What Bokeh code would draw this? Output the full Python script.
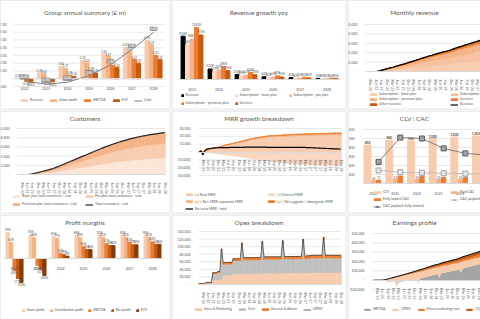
import math
from bokeh.plotting import figure
from bokeh.layouts import row, column
from bokeh.models import Range1d, FixedTicker, Legend, LegendItem, ColumnDataSource, LabelSet, Label
from bokeh.embed import file_html
from bokeh.resources import INLINE
from bokeh.core.properties import value

FONT = "Lato"
TXT = "#595959"
GRID = "#d9d9d9"
TS = "3.5px"

# ---------------- annual data ----------------
years = ["2022", "2023", "2024", "2025", "2026", "2027", "2028"]
grp_revenue = [0.09, 0.76, 1.60, 2.36, 3.25, 4.07, 4.96]
grp_gross_profit = [0.07, 0.64, 1.37, 2.05, 2.87, 3.61, 4.39]
grp_ebitda = [-0.30, -0.25, 0.45, 0.99, 1.75, 2.47, 3.02]
grp_fcf = [-0.45, -0.40, 0.30, 0.75, 1.43, 2.01, 2.45]
grp_cash = [-0.30, -0.70, -0.45, 0.40, 1.80, 3.80, 6.00]

growth_years = ["2023", "2024", "2025", "2026", "2027", "2028"]
growth_revenue = [950, 230, 110, 60, 40, 25]
growth_basic = [760, 175, 85, 45, 30, 20]
growth_pro = [886, 210, 100, 55, 35, 25]
growth_premium = [1143, 285, 150, 80, 50, 30]
growth_services = [975, 195, 105, 55, 35, 25]

clv = [850, 960, 945, 1000, 1030, 1055, 1080]
paid_cac = [64, 92, 90, 92, 93, 94, 95]
fl_cac = [73, 165, 160, 140, 130, 125, 120]
payback_fl = [480, 1020, 1000, 780, 670, 630, 600]
payback = [290, 250, 240, 230, 220, 215, 210]

margin_gp = [99, 92, 85, 88, 90, 90, 90]
margin_cp = [62, 80, 77, 80, 82, 82, 82]
margin_ebitda = [-46, -27, 20, 46, 57, 63, 64]
margin_np = [-77, -42, 15, 35, 50, 53, 55]
margin_fcf = [-92, -65, 9, 35, 50, 53, 55]

# ---------------- monthly data (Jan-22 .. Dec-28) ----------------
month_ticks = ["Mar-22", "Jun-22", "Sep-22", "Dec-22", "Mar-23", "Jun-23", "Sep-23", "Dec-23",
               "Mar-24", "Jun-24", "Sep-24", "Dec-24", "Mar-25", "Jun-25", "Sep-25", "Dec-25",
               "Mar-26", "Jun-26", "Sep-26", "Dec-26", "Mar-27", "Jun-27", "Sep-27", "Dec-27",
               "Mar-28", "Jun-28", "Sep-28", "Dec-28"]

# revenue streams, £k per month
rev_basic = [0, 0, 0, 0, 0, 0, 1, 3, 4, 6, 8, 10,
             12, 14, 15, 17, 19, 21, 23, 25, 27, 29, 31, 33,
             36, 38, 40, 42, 44, 46, 49, 51, 53, 55, 58, 60,
             61, 63, 66, 68, 69, 71, 73, 75, 77, 78, 80, 82,
             85, 87, 90, 92, 94, 96, 99, 101, 103, 105, 107, 109,
             112, 114, 116, 118, 120, 122, 124, 126, 127, 129, 131, 133,
             137, 139, 142, 144, 147, 149, 151, 153, 156, 158, 159, 161]
rev_pro = [0, 0, 0, 0, 0, 0, 1, 2, 4, 5, 7, 8,
           10, 11, 13, 14, 16, 18, 20, 21, 23, 24, 26, 28,
           30, 32, 33, 35, 37, 39, 41, 43, 44, 46, 48, 50,
           51, 53, 55, 56, 58, 59, 61, 62, 64, 65, 67, 68,
           71, 73, 75, 77, 79, 80, 82, 84, 86, 88, 89, 91,
           93, 95, 97, 98, 100, 102, 103, 105, 106, 108, 109, 111,
           114, 116, 118, 120, 122, 124, 126, 128, 130, 131, 133, 134]
rev_premium = [0, 0, 0, 0, 0, 0, 1, 1, 3, 4, 6, 7,
               8, 9, 10, 12, 13, 14, 16, 17, 18, 19, 21, 22,
               24, 25, 27, 28, 30, 31, 33, 34, 36, 37, 38, 40,
               41, 42, 44, 45, 46, 48, 49, 50, 51, 52, 54, 55,
               57, 58, 60, 61, 63, 64, 66, 67, 69, 70, 72, 73,
               74, 76, 77, 79, 80, 81, 83, 84, 85, 86, 87, 89,
               91, 93, 95, 96, 98, 99, 101, 102, 104, 105, 106, 108]
rev_services = [0, 0, 0, 0, 0, 0, 0, 1, 1, 1, 2, 2,
                2, 3, 3, 3, 4, 4, 5, 5, 5, 6, 6, 7,
                7, 7, 8, 8, 9, 9, 10, 10, 10, 11, 11, 12,
                12, 12, 13, 13, 14, 14, 14, 15, 15, 15, 16, 16,
                17, 17, 18, 18, 18, 19, 19, 20, 20, 20, 21, 21,
                22, 22, 23, 23, 23, 24, 24, 24, 25, 25, 25, 26,
                27, 27, 28, 28, 29, 29, 29, 30, 30, 31, 31, 31]
rev_other = [0, 0, 0, 0, 0, 0, 0, 0, 0, 1, 0, 1,
             1, 1, 2, 2, 2, 2, 1, 2, 3, 3, 3, 3,
             2, 3, 3, 4, 3, 4, 3, 4, 5, 5, 5, 4,
             5, 6, 4, 6, 6, 6, 6, 6, 6, 8, 6, 7,
             6, 8, 7, 8, 8, 9, 8, 8, 8, 9, 9, 10,
             9, 9, 9, 10, 11, 10, 10, 10, 11, 11, 12, 10,
             11, 12, 11, 13, 12, 13, 13, 13, 12, 13, 14, 14]

# customers (end of month)
cust_basic = [0, 0, 0, 0, 0, 0, 10, 30, 60, 90, 130, 160,
              200, 240, 280, 320, 360, 400, 450, 490, 540, 600, 660, 720,
              780, 850, 910, 980, 1040, 1100, 1170, 1230, 1300, 1360, 1420, 1490,
              1550, 1620, 1680, 1740, 1810, 1870, 1940, 2000, 2060, 2130, 2190, 2260,
              2320, 2380, 2440, 2490, 2550, 2600, 2660, 2710, 2760, 2810, 2860, 2900,
              2950, 2990, 3040, 3080, 3120, 3160, 3190, 3230, 3260, 3300, 3330, 3360,
              3390, 3420, 3440, 3470, 3490, 3520, 3540, 3560, 3580, 3600, 3620, 3640]
cust_pro = [0, 0, 0, 0, 0, 0, 10, 30, 50, 80, 110, 140,
            180, 210, 250, 280, 320, 350, 390, 430, 470, 530, 580, 630,
            690, 740, 800, 850, 910, 970, 1020, 1080, 1130, 1190, 1250, 1300,
            1360, 1410, 1470, 1530, 1580, 1640, 1690, 1750, 1810, 1860, 1920, 1970,
            2030, 2080, 2130, 2180, 2230, 2280, 2320, 2370, 2420, 2460, 2500, 2540,
            2580, 2620, 2660, 2690, 2730, 2760, 2790, 2820, 2860, 2880, 2910, 2940,
            2960, 2990, 3010, 3030, 3060, 3080, 3100, 3120, 3130, 3150, 3170, 3190]
cust_premium = [0, 0, 0, 0, 0, 0, 10, 20, 40, 60, 80, 110,
                120, 150, 170, 200, 220, 260, 280, 310, 340, 370, 410, 450,
                490, 530, 570, 610, 650, 690, 730, 770, 810, 850, 890, 930,
                970, 1010, 1050, 1090, 1130, 1170, 1210, 1250, 1290, 1330, 1370, 1410,
                1440, 1480, 1520, 1560, 1590, 1630, 1660, 1690, 1720, 1750, 1780, 1820,
                1840, 1870, 1890, 1920, 1940, 1970, 2000, 2020, 2040, 2060, 2080, 2100,
                2120, 2130, 2160, 2170, 2180, 2190, 2210, 2220, 2240, 2250, 2260, 2270]

# MRR movements, £k
mrr_new = [0, 0, 0.5, 1, 2, 3, 3.5, 4, 4.5, 5, 5.5, 6,
           6.5, 7, 7.5, 8, 8.5, 9, 9.5, 10, 10.5, 11, 11.5, 12,
           12.5, 13, 13.5, 14, 14.5, 15, 15.5, 16, 16.3, 16.6, 17, 17.3,
           17.6, 18, 18.3, 18.6, 18.8, 19, 19.2, 19.3, 19.4, 19.5, 19.6, 19.7,
           19.8, 19.9, 20, 20.1, 20.2, 20.3, 20.4, 20.5, 20.6, 20.7, 20.8, 20.9,
           21, 21, 21.1, 21.1, 21.2, 21.2, 21.3, 21.3, 21.4, 21.4, 21.5, 21.5,
           21.6, 21.6, 21.7, 21.7, 21.8, 21.8, 21.9, 21.9, 22, 22, 22, 22]
mrr_churn = [0, 0, 0, -0.2, -0.4, -0.6, -0.9, -1.2, -1.5, -1.8, -2.1, -2.4,
             -2.7, -3, -3.3, -3.6, -3.9, -4.2, -4.5, -4.8, -5.1, -5.4, -5.7, -6,
             -6.3, -6.6, -6.9, -7.2, -7.5, -7.8, -8.1, -8.4, -8.7, -9, -9.3, -9.6,
             -9.9, -10.2, -10.5, -10.8, -11.1, -11.4, -11.7, -12, -12.3, -12.6, -12.9, -13.1,
             -13.3, -13.5, -13.7, -13.9, -14.1, -14.3, -14.5, -14.7, -14.9, -15.1, -15.3, -15.5,
             -15.6, -15.7, -15.8, -15.9, -16, -16.1, -16.2, -16.3, -16.4, -16.5, -16.6, -16.7,
             -16.8, -16.9, -17, -17.1, -17.2, -17.3, -17.4, -17.5, -17.6, -17.7, -17.8, -17.9]
mrr_expansion = [0, 0, 0, 0, 0, 0, 0.1, 0.1, 0.1, 0.2, 0.2, 0.2,
                 0.3, 0.3, 0.3, 0.4, 0.4, 0.4, 0.5, 0.5, 0.5, 0.6, 0.6, 0.6,
                 0.7, 0.7, 0.7, 0.8, 0.8, 0.8, 0.9, 0.9, 0.9, 1.0, 1.0, 1.0,
                 1.0, 1.1, 1.1, 1.1, 1.2, 1.2, 1.2, 1.2, 1.3, 1.3, 1.3, 1.3,
                 1.3, 1.4, 1.4, 1.4, 1.4, 1.4, 1.5, 1.5, 1.5, 1.5, 1.5, 1.5,
                 1.5, 1.5, 1.6, 1.6, 1.6, 1.6, 1.6, 1.6, 1.6, 1.6, 1.7, 1.7,
                 1.7, 1.7, 1.7, 1.7, 1.7, 1.7, 1.7, 1.8, 1.8, 1.8, 1.8, 1.8]
mrr_upgrade = [0, 0, 0, 0, 0, 0, 0, 0, 0.1, 0.1, 0.1, 0.1,
               0.1, 0.2, 0.2, 0.2, 0.2, 0.2, 0.3, 0.3, 0.3, 0.3, 0.3, 0.3,
               0.4, 0.4, 0.4, 0.4, 0.4, 0.4, 0.4, 0.5, 0.5, 0.5, 0.5, 0.5,
               0.5, 0.5, 0.5, 0.5, 0.5, 0.6, 0.6, 0.6, 0.6, 0.6, 0.6, 0.6,
               0.6, 0.6, 0.6, 0.6, 0.6, 0.6, 0.6, 0.6, 0.6, 0.6, 0.6, 0.6,
               0.6, 0.6, 0.6, 0.6, 0.6, 0.6, 0.6, 0.6, 0.6, 0.6, 0.6, 0.6,
               0.6, 0.6, 0.6, 0.6, 0.6, 0.6, 0.6, 0.6, 0.6, 0.6, 0.6, 0.6]
mrr_net = [0, 1.5, -4, 1, 3, 4, 4.5, 4.8, 5, 5.2, 5.3, 5.4,
           5.5, 5.5, 5.6, 5.6, 5.7, 5.7, 5.8, 5.8, 5.9, 5.9, 6, 6,
           6, 6, 6, 6.1, 6.1, 6.1, 6.1, 6.1, 6.1, 6.1, 6.1, 6.1,
           6.1, 6.1, 6.1, 6.1, 6, 6, 6, 6, 6, 6, 6, 6,
           6, 6, 6, 6, 6, 6, 6, 6, 5.9, 5.9, 5.9, 5.9,
           5.9, 5.8, 5.8, 5.7, 5.6, 5.5, 5.4, 5.3, 5.2, 5.1, 5, 4.9,
           4.8, 4.7, 4.6, 4.5, 4.4, 4.3, 4.2, 4.1, 4, 3.9, 3.8, 3.7]

# opex, £k
opex_sm = [0, 0, 0, 0, 1, 1, 1, 1, 12, 12, 12, 13,
           13, 14, 25, 25, 25, 25, 25, 25, 28, 28, 28, 28,
           28, 28, 29, 29, 29, 29, 29, 29, 29, 29, 29, 29,
           30, 30, 30, 30, 30, 30, 30, 30, 30, 30, 30, 30,
           30, 30, 31, 31, 31, 31, 31, 31, 31, 31, 31, 31,
           31, 31, 31, 31, 31, 31, 32, 32, 32, 32, 32, 32,
           32, 32, 32, 32, 32, 32, 32, 32, 32, 32, 32, 32]
opex_tech = [2, 2, 2, 2, 4, 4, 4, 4, 17, 17, 17, 19,
             19, 77, 29, 29, 29, 29, 29, 29, 35, 35, 35, 35,
             35, 76, 36, 36, 36, 36, 36, 36, 36, 36, 36, 36,
             36, 78, 36, 37, 37, 37, 37, 37, 37, 37, 37, 37,
             37, 80, 37, 37, 37, 37, 37, 37, 37, 37, 37, 37,
             37, 82, 37, 37, 38, 38, 38, 38, 38, 38, 38, 38,
             38, 86, 38, 38, 38, 38, 38, 38, 38, 38, 38, 38]
opex_ga = [0.3, 0.3, 0.3, 0.3, 0.5, 0.5, 0.5, 0.5, 2, 2, 2, 2.5,
           2.5, 3, 4, 4, 4, 4, 4, 4, 5, 5, 5, 5,
           5, 6, 6, 6, 6, 6, 6, 6, 6, 6, 6, 6,
           6, 6, 6, 6, 6, 6, 6, 6, 6, 6, 6, 6,
           6, 6, 6, 6, 6, 6, 6, 6, 6, 6, 6, 6,
           7, 7, 7, 7, 7, 7, 7, 7, 7, 7, 7, 7,
           7, 7, 7, 7, 7, 7, 7, 7, 7, 7, 7, 7]

# direct costs, £k
direct_marketing = [0, 0, 0, 0, 0, 0, 1, 1, 1.5, 2, 2.5, 3,
                    3, 3.2, 3.5, 4, 4.3, 4.7, 5.2, 5.6, 6, 6.5, 7, 7.4,
                    8, 8.4, 8.9, 9.4, 9.8, 10.3, 10.9, 11.4, 11.8, 12.3, 12.8, 13.3,
                    13.6, 14, 14.6, 15, 15.4, 15.8, 16.2, 16.6, 17, 17.4, 17.8, 18.2,
                    18.9, 19.4, 20, 20.5, 21, 21.4, 21.9, 22.4, 22.9, 23.4, 23.8, 24.3,
                    24.8, 25.3, 25.8, 26.2, 26.7, 27.1, 27.5, 27.9, 28.3, 28.7, 29.1, 29.5,
                    30.4, 31, 31.5, 32, 32.6, 33.1, 33.6, 34.1, 34.6, 35, 35.4, 35.8]
cogs = [0, 0, 0, 0, 0, 0, 0.4, 0.8, 1.4, 2, 2.8, 3.4,
        4, 4.6, 5.2, 5.8, 6.5, 7, 7.8, 8.4, 9, 9.7, 10.4, 11,
        12, 12.6, 13.3, 14, 14.8, 15.5, 16.3, 17, 17.8, 18.5, 19.2, 20,
        20.4, 21, 21.8, 22.5, 23, 23.8, 24.4, 25, 25.6, 26, 26.8, 27.4,
        28.3, 29, 30, 30.7, 31.4, 32, 32.9, 33.6, 34.3, 35, 35.8, 36.5,
        37.2, 38, 38.6, 39.4, 40, 40.7, 41.3, 41.9, 42.5, 43, 43.7, 44.3,
        45.6, 46.4, 47.3, 48, 49, 49.7, 50.4, 51, 51.8, 52.6, 53.2, 53.8]

for arr in (rev_basic, rev_pro, rev_premium, rev_services, rev_other, cust_basic, cust_pro,
            cust_premium, mrr_new, mrr_churn, mrr_expansion, mrr_upgrade, mrr_net, opex_sm,
            opex_tech, opex_ga, direct_marketing, cogs):
    assert len(arr) == 84, len(arr)

# ---------------- helpers ----------------
N = 84
months = list(range(N))
tick_pos = list(range(2, N, 3))


def k(a):
    return [v * 1000 for v in a]


def fmt_axis(v):
    if v == 0:
        return "-"
    s = f"{abs(v):,.0f}"
    return f"({s})" if v < 0 else s


def fmt2(v):
    return f"({abs(v):.2f})" if v < 0 else f"{v:.2f}"


def pct(v):
    return f"({abs(v)}%)" if v < 0 else f"{v}%"


def mk(W, H, px, data, title, title_y, yt=None, base=None, ylabels=None, ystand=2):
    """px = plot-area pixels (L, R, T, B) inside the figure; data = (x0, x1, y0, y1)."""
    L, R, T, B = px
    x0, x1, y0, y1 = data
    ux = (x1 - x0) / (R - L)
    uy = (y1 - y0) / (B - T)
    xr = Range1d(x0 - L * ux, x1 + (W - R) * ux)
    yr = Range1d(y0 - (H - B) * uy, y1 + T * uy)
    p = figure(width=W, height=H, x_range=xr, y_range=yr, output_backend="svg",
               toolbar_location=None, min_border=0, min_border_left=0, min_border_right=0,
               min_border_top=0, min_border_bottom=0,
               background_fill_color="white", border_fill_color="white", outline_line_color=None)
    for ax in list(p.xaxis) + list(p.yaxis):
        ax.major_label_text_font = FONT
        ax.major_label_text_font_size = TS
        ax.major_label_text_color = TXT
        ax.major_tick_line_color = None
        ax.minor_tick_line_color = None
        ax.axis_line_color = None
        ax.major_label_standoff = 2
    p.xgrid.grid_line_color = None
    p.ygrid.grid_line_color = None
    p.xaxis.fixed_location = y0 if base is None else base
    p.xaxis.axis_line_color = GRID
    p.xaxis.bounds = (x0, x1)
    if yt is None:
        p.yaxis.visible = False
    else:
        p.yaxis.fixed_location = x0
        p.yaxis.major_label_standoff = ystand
        p.yaxis.ticker = FixedTicker(ticks=yt)
        p.yaxis.major_label_overrides = ylabels or {t: fmt_axis(t) for t in yt}
        p.segment(x0=[x0] * len(yt), x1=[x1] * len(yt), y0=yt, y1=yt, color=GRID,
                  line_width=0.6, level="underlay")
    p.add_layout(Label(x=W / 2, y=H - title_y, x_units="screen", y_units="screen", text=title,
                       text_align="center", text_baseline="middle", text_font=FONT,
                       text_font_size="6.5px", text_color=TXT))
    p.styles = {"outline": "1px solid #d9d9d9", "outline-offset": "-1px"}
    return p


def xcats(p, labels):
    pos = list(range(len(labels)))
    p.xaxis.ticker = FixedTicker(ticks=pos)
    p.xaxis.major_label_overrides = dict(zip(pos, labels))


def xmonths(p):
    p.xaxis.ticker = FixedTicker(ticks=tick_pos)
    p.xaxis.major_label_overrides = dict(zip(tick_pos, month_ticks))
    p.xaxis.major_label_orientation = "vertical"


def labels(p, xs, ys, texts, size="3.2px", color=TXT, bold=False):
    pos = [(x, y, t) for x, y, t in zip(xs, ys, texts) if y >= 0]
    neg = [(x, y, t) for x, y, t in zip(xs, ys, texts) if y < 0]
    for grp, base, off in ((pos, "bottom", -1), (neg, "top", 1)):
        if grp:
            p.text(x=[g[0] for g in grp], y=[g[1] for g in grp], text=[g[2] for g in grp],
                   text_font=value(FONT), text_font_size=value(size), text_color=color,
                   text_font_style="bold" if bold else "normal",
                   text_align="center", text_baseline=base, y_offset=off)


def legend(p, items, x, y, ncols, lw=0, gw=8, gh=3, lh=5, spacing=0):
    leg = Legend(items=[LegendItem(label=value(l), renderers=r if isinstance(r, list) else [r])
                        for l, r in items],
                 location=(x, y), orientation="horizontal", ncols=ncols,
                 label_text_font=FONT, label_text_font_size=TS, label_text_color=TXT,
                 glyph_width=gw, glyph_height=gh, label_height=lh, label_width=lw,
                 label_standoff=2, spacing=spacing, padding=0, margin=0,
                 border_line_alpha=0, background_fill_alpha=0)
    p.add_layout(leg, "center")


# colours
C1, C2, C3, C4, C5 = "#fbe5d6", "#f8cbad", "#f4b183", "#ed7d31", "#c55a11"

# ---------------- P1 Group annual summary ----------------
p1 = mk(169, 108, (13, 164, 24, 86), (-0.51, 6.51, -1, 7), "Group annual summary (£ m)", 12,
        yt=[-1, 0, 1, 2, 3, 4, 5, 6, 7], base=0, ystand=1,
        ylabels={-1: "(1.00)", 0: "-", 1: "1.00", 2: "2.00", 3: "3.00", 4: "4.00", 5: "5.00",
                 6: "6.00", 7: "7.00"})
xcats(p1, years)
yi = list(range(len(years)))
items = []
for vals, col, off, lab in ((grp_revenue, C2, -0.3, "Revenue"), (grp_gross_profit, C3, -0.1, "Gross profit"),
                            (grp_ebitda, C4, 0.1, "EBITDA"), (grp_fcf, C5, 0.3, "FCF")):
    xs = [i + off for i in yi]
    r = p1.vbar(x=xs, top=vals, bottom=0, width=0.19, color=col)
    items.append((lab, r))
    labels(p1, xs, vals, [fmt2(v) for v in vals], size="3px")
rc = p1.line(yi, grp_cash, color="#7f7f7f", line_width=1)
items.append(("Cash", rc))
src_cash = ColumnDataSource(dict(x=yi, y=grp_cash, t=[fmt2(v) for v in grp_cash]))
p1.add_layout(LabelSet(x="x", y="y", text="t", source=src_cash, y_offset=2, text_align="center",
                       text_baseline="bottom", text_font=value(FONT), text_font_size=value("3.4px"),
                       text_color="white", background_fill_color="#a5a5a5", border_line_color="#7f7f7f"))
legend(p1, items, 20, 5.5, 5, spacing=6)

# ---------------- P2 Revenue growth yoy ----------------
p2 = mk(173, 108, (6, 168, 22, 79), (-0.5, 5.5, 0, 1250), "Revenue growth yoy", 12, base=0)
xcats(p2, growth_years)
gi = list(range(len(growth_years)))
items = []
for vals, col, off, lab in ((growth_revenue, "#000000", -0.33, "Revenue"),
                            (growth_basic, "#fbd5c0", -0.165, "Subscription - basic plan"),
                            (growth_pro, "#f6b48c", 0.0, "Subscription - pro plan"),
                            (growth_premium, C4, 0.165, "Subscription - premium plan"),
                            (growth_services, C5, 0.33, "Services")):
    xs = [i + off for i in gi]
    r = p2.vbar(x=xs, top=vals, bottom=0, width=0.15, color=col)
    items.append((lab, r))
    labels(p2, xs, vals, [pct(v) for v in vals], size="3px")
legend(p2, items, 8.5, 1, 3, lw=49, gw=3, gh=3, lh=8)

# ---------------- P3 Monthly revenue ----------------
p3 = mk(132, 108, (17, 132, 24, 71), (-0.8, 63.8, 0, 500000), "Monthly revenue", 12,
        yt=[0, 100000, 200000, 300000, 400000, 500000])
xmonths(p3)
src3 = ColumnDataSource(dict(x=months, b=k(rev_basic), p=k(rev_pro), m=k(rev_premium),
                             s=k(rev_services), o=k(rev_other)))
rs = p3.vbar_stack(["b", "p", "m", "s", "o"], x="x", width=0.6,
                   color=[C2, "#f6c09e", C3, C4, C5], source=src3)
rev_total = [a + b + c + d + e for a, b, c, d, e in zip(rev_basic, rev_pro, rev_premium, rev_services, rev_other)]
rl = p3.line(months, k(rev_total), color="#000000", line_width=1.2)
legend(p3, [("Subscription - basic plan", rs[0]), ("Subscription - pro plan", rs[1]),
            ("Subscription - premium plan", rs[2]), ("Services", rs[3]),
            ("Other revenue", rs[4]), ("Revenue", rl)], 21, 1.5, 2, lw=71, lh=5)

# ---------------- P4 Customers ----------------
p4 = mk(169, 101, (17, 165, 17, 63), (-0.5, 83.5, 0, 10000), "Customers", 7,
        yt=[0, 2000, 4000, 6000, 8000, 10000])
xmonths(p4)
src4 = ColumnDataSource(dict(x=months, b=cust_basic, p=cust_pro, m=cust_premium))
rs = p4.vbar_stack(["b", "p", "m"], x="x", width=0.6, color=[C1, C2, C3], source=src4)
cust_total = [a + b + c for a, b, c in zip(cust_basic, cust_pro, cust_premium)]
rl = p4.line(months, cust_total, color="#262626", line_width=1.2)
legend(p4, [("Basic plan total customers - end", rs[0]), ("Pro plan total customers - end", rs[1]),
            ("Premium plan total customers - end", rs[2]), ("Total customers - end", rl)],
       12, 4, 2, lw=63, lh=8)

# ---------------- P5 MRR growth breakdown ----------------
p5 = mk(173, 101, (26, 169, 17, 64), (-0.5, 83.5, -30000, 30000), "MRR growth breakdown", 7,
        yt=[-30000, -20000, -10000, 0, 10000, 20000, 30000], base=0)
xmonths(p5)
src5 = ColumnDataSource(dict(x=months, n=k(mrr_new), e=k(mrr_expansion), u=k(mrr_upgrade)))
rs = p5.vbar_stack(["n", "e", "u"], x="x", width=0.6, color=[C2, C3, C4], source=src5)
rch = p5.vbar(x=months, top=k(mrr_churn), bottom=0, width=0.6, color="#f9d5bf")
rl = p5.line(months, k(mrr_net), color="#000000", line_width=1.2)
legend(p5, [("(+) New MRR", rs[0]), ("(-) Churned MRR", rch),
            ("(+/-) Net. MRR expansion MRR", rs[1]), ("(+/-) Net upgrade / downgrade MRR", rs[2]),
            ("Net new MRR - total", rl)], 13, 0, 2, lw=72, lh=7)

# ---------------- P6 CLV : CAC ----------------
p6 = mk(132, 101, (14, 132, 18, 72), (-0.5, 4.94, 0, 1200), "CLV : CAC", 7,
        yt=[0, 200, 400, 600, 800, 1000, 1200])
xcats(p6, years)
ci = list(range(len(years)))
x_clv = [i - 0.27 for i in ci]
x_paid = [i + 0.02 for i in ci]
x_fl = [i + 0.24 for i in ci]
r_clv = p6.vbar(x=x_clv, top=clv, bottom=0, width=0.32, color=C2)
r_paid = p6.vbar(x=x_paid, top=paid_cac, bottom=0, width=0.18, color=C3)
r_fl = p6.vbar(x=x_fl, top=fl_cac, bottom=0, width=0.2, color=C4)
labels(p6, x_clv, clv, [f"{v:,}" for v in clv], size="3.2px", color="#404040", bold=True)
labels(p6, x_paid, paid_cac, [str(v) for v in paid_cac], size="2.8px")
labels(p6, x_fl, fl_cac, [str(v) for v in fl_cac], size="2.8px")
rp1 = p6.line(x_fl, payback, color="#bfbfbf", line_width=1)
rp1m = p6.scatter(x_fl, payback, marker="square", size=5, fill_color="#e7e6e6", line_color="#a5a5a5")
rp2 = p6.line(x_fl, payback_fl, color="#7f7f7f", line_width=1)
rp2m = p6.scatter(x_fl, payback_fl, marker="square", size=5, fill_color="#a5a5a5", line_color="#595959")
legend(p6, [("CLV", r_clv), ("Paid CAC", r_paid), ("Fully loaded CAC", r_fl),
            ("CAC payback", [rp1, rp1m]), ("CAC payback (fully loaded)", [rp2, rp2m])],
       25, 2.5, 2, lw=67, lh=7)

# ---------------- P7 Profit margins ----------------
p7 = mk(169, 104, (3, 163, 15, 82), (-0.48, 6.48, -150, 108), "Profit margins", 7, base=0)
xcats(p7, years)
items = []
for vals, col, off, lab in ((margin_gp, C2, -0.3, "Gross profit"), (margin_cp, C3, -0.15, "Contribution profit"),
                            (margin_ebitda, C4, 0.0, "EBITDA"), (margin_np, C5, 0.15, "Net profit"),
                            (margin_fcf, "#843c0c", 0.3, "FCF")):
    xs = [i + off for i in yi]
    r = p7.vbar(x=xs, top=vals, bottom=0, width=0.14, color=col)
    items.append((lab, r))
    labels(p7, xs, vals, [pct(v) for v in vals], size="3px")
legend(p7, items, 21.5, 6.5, 5, gw=3, gh=3, spacing=5)

# ---------------- P8 Opex breakdown ----------------
p8 = mk(173, 104, (26, 169, 16, 69), (-0.5, 83.5, 0, 140000), "Opex breakdown", 7,
        yt=[0, 20000, 40000, 60000, 80000, 100000, 120000, 140000])
xmonths(p8)
src8 = ColumnDataSource(dict(x=months, s=k(opex_sm), t=k(opex_tech), g=k(opex_ga)))
rs = p8.vbar_stack(["s", "t", "g"], x="x", width=0.6, color=[C2, "#bfbfbf", C4], source=src8)
opex_total = [a + b + c for a, b, c in zip(opex_sm, opex_tech, opex_ga)]
rl = p8.line(months, k(opex_total), color="#404040", line_width=0.8)
legend(p8, [("Sales & Marketing", rs[0]), ("Tech", rs[1]), ("General & Admin", rs[2]), ("OPEX", rl)],
       22, 7.5, 4, spacing=6)

# ---------------- P9 Earnings profile ----------------
p9 = mk(132, 104, (24, 132, 18, 74), (-0.5, 60, -100000, 500000), "Earnings profile", 7,
        yt=[-100000, 0, 100000, 200000, 300000, 400000, 500000], base=0)
xmonths(p9)
ebitda_m = [r - o - d - c for r, o, d, c in zip(rev_total, opex_total, direct_marketing, cogs)]
src9 = ColumnDataSource(dict(x=months, e=k(ebitda_m), o=k(opex_total), d=k(direct_marketing), c=k(cogs)))
ra = p9.varea_stack(["e", "o", "d", "c"], x="x", color=["#a5a5a5", C2, C4, C5], source=src9)
rl = p9.line(months, k(rev_total), color="#000000", line_width=1)
legend(p9, [("EBITDA", ra[0]), ("OPEX", ra[1]), ("Direct marketing cost", ra[2]), ("COGS", ra[3]),
            ("Revenue", rl)], 15, 7.5, 5, spacing=6)

layout = column(row(p1, p2, p3, spacing=3), row(p4, p5, p6, spacing=3), row(p7, p8, p9, spacing=3),
                spacing=3, styles={"background-color": "#f2f2f2"})

open("out.html", "w").write(file_html(layout, INLINE))
